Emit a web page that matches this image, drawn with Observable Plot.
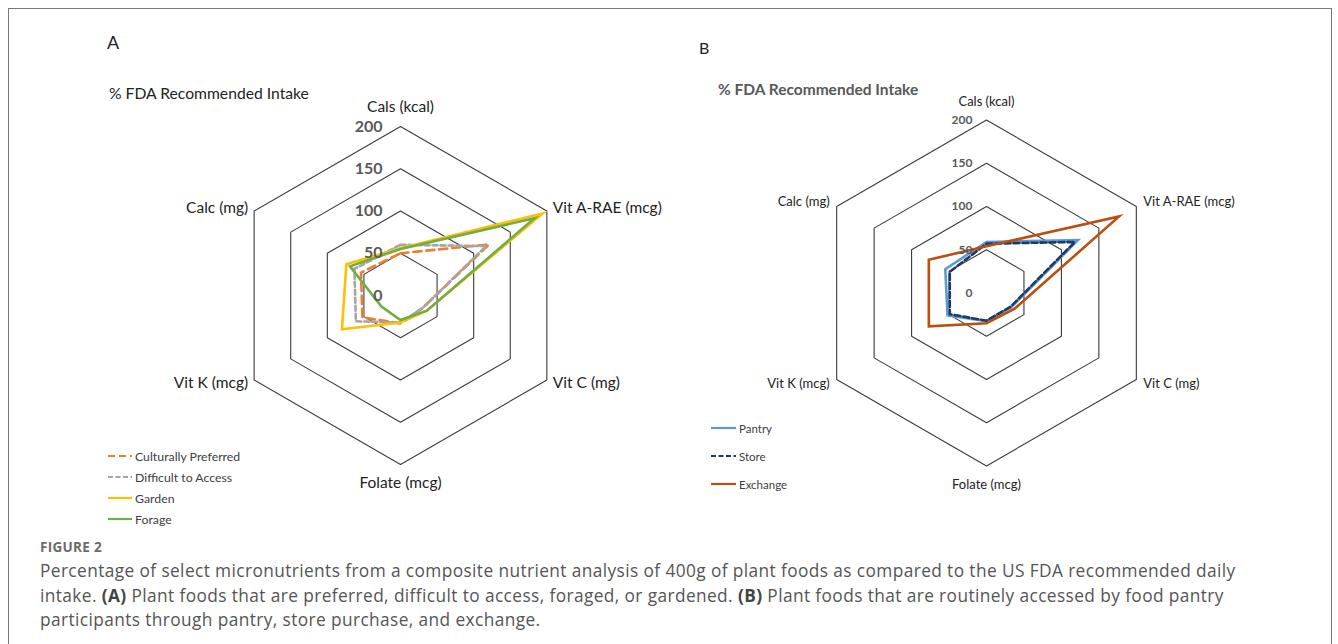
<!DOCTYPE html>
<html><head><meta charset="utf-8">
<script src="https://cdn.jsdelivr.net/npm/d3@7"></script>
<script src="https://cdn.jsdelivr.net/npm/@observablehq/plot@0.6"></script>
<style>
body{margin:0;background:#fff;}
#root{position:relative;width:1338px;height:644px;overflow:hidden;font-family:Lato,"Open Sans",sans-serif;background:#fff;}
#frame{position:absolute;left:8px;top:8px;width:1322px;height:700px;border:1.5px solid #7a7a7a;border-bottom:none;}
.abs{position:absolute;white-space:nowrap;line-height:1;}
.plot{position:absolute;top:0;}
.leg{position:absolute;display:flex;align-items:center;color:#404040;white-space:nowrap;}
.leg svg{display:block;margin-right:3px;}
</style></head><body><div id="root">
<div id="frame"></div>
<div class="abs" style="left:107px;top:33px;font-size:18px;color:#222;">A</div>
<div class="abs" style="left:109px;top:86px;font-size:15.7px;color:#222;">% FDA Recommended Intake</div>
<div class="abs" style="left:699px;top:40px;font-size:16px;color:#222;">B</div>
<div class="abs" style="left:718px;top:82px;font-size:15.5px;font-weight:700;color:#595959;">% FDA Recommended Intake</div>
<div id="plotA" class="plot" style="left:0px;"></div>
<div id="plotB" class="plot" style="left:660px;"></div>
<div id="legA"></div>
<div id="legB"></div>
<div class="abs" style="left:40px;top:541px;font-size:13.5px;font-weight:700;color:#6b6b6b;letter-spacing:0.3px;font-family:'Open Sans',Lato,sans-serif;">FIGURE 2</div>
<div class="abs" id="cap" style="left:40px;top:559px;font-size:17.3px;letter-spacing:0.4px;color:#555;line-height:24.5px;font-family:'Open Sans',Lato,sans-serif;"></div>
</div>
<script>
// ---- data ----
const categories = ["Cals (kcal)", "Vit A-RAE (mcg)", "Vit C (mg)", "Folate (mcg)", "Vit K (mcg)", "Calc (mg)"];
const ringValues = [50, 100, 150, 200];
const tickLabels = ["0", "50", "100", "150", "200"];
const tickValues = [0, 50, 100, 150, 200];

const seriesNamesA = ["Culturally Preferred", "Difficult to Access", "Garden", "Forage"];
const culturallyPreferred = [50, 121, 30, 33, 52, 54];
const difficultToAccess = [60, 117, 30, 32, 61, 63];
const garden = [56, 194, 36, 32, 80, 74];
const forage = [55, 183, 36, 29, 26, 69];

const seriesNamesB = ["Pantry", "Store", "Exchange"];
const pantry = [59, 122, 33, 32.5, 52, 55];
const store = [57, 118, 32, 32, 49, 49];
const exchange = [54, 177, 37, 35, 77, 77];

const captionLines = [
  'Percentage of select micronutrients from a composite nutrient analysis of 400g of plant foods as compared to the US FDA recommended daily',
  'intake. <b style="color:#444">(A)</b> Plant foods that are preferred, difficult to access, foraged, or gardened. <b style="color:#444">(B)</b> Plant foods that are routinely accessed by food pantry',
  'participants through pantry, store purchase, and exchange.'
];

// ---- helpers ----
const ang = i => (i % 6) * Math.PI / 3;
const closed = vals => vals.concat([vals[0]]).map((v, i) => ({x: v * Math.sin(ang(i)), y: v * Math.cos(ang(i))}));
const rings = ringValues.flatMap(r => closed(categories.map(() => r)).map(p => ({...p, ring: r})));

function radar(el, o) {
  const lab = categories.map((c, i) => ({text: c, i, x: 200 * Math.sin(ang(i)), y: 200 * Math.cos(ang(i))}));
  const ticks = tickValues.map((v, i) => ({x: 0, y: v, text: tickLabels[i]}));
  const marks = [
    Plot.line(rings, {x: "x", y: "y", z: "ring", stroke: "#3a3a3a", strokeWidth: 1.1})
  ];
  for (const s of o.series) {
    marks.push(Plot.line(closed(s.values), {x: "x", y: "y", stroke: s.color, strokeWidth: 2.6, strokeDasharray: s.dash || null, strokeLinejoin: "miter", strokeMiterlimit: 6}));
  }
  marks.push(
    Plot.text(ticks, {x: "x", y: "y", text: "text", textAnchor: "end", dx: o.tickDx, fontSize: o.tickFont, fontWeight: 700, fill: "#595959"}),
    Plot.text(lab.filter(d => d.i === 0), {x: "x", y: "y", text: "text", dy: o.topDy, fontSize: o.labFont, fill: "#222"}),
    Plot.text(lab.filter(d => d.i === 3), {x: "x", y: "y", text: "text", dy: o.botDy, fontSize: o.labFont, fill: "#222"}),
    Plot.text(lab.filter(d => d.i === 1), {x: "x", y: "y", text: "text", textAnchor: "start", dx: o.sideDx, dy: o.upDy, fontSize: o.labFont, fill: "#222"}),
    Plot.text(lab.filter(d => d.i === 2), {x: "x", y: "y", text: "text", textAnchor: "start", dx: o.sideDx, dy: o.downDy, fontSize: o.labFont, fill: "#222"}),
    Plot.text(lab.filter(d => d.i === 4), {x: "x", y: "y", text: "text", textAnchor: "end", dx: -o.sideDx, dy: o.downDy, fontSize: o.labFont, fill: "#222"}),
    Plot.text(lab.filter(d => d.i === 5), {x: "x", y: "y", text: "text", textAnchor: "end", dx: -o.sideDx, dy: o.upDy, fontSize: o.labFont, fill: "#222"})
  );
  const p = Plot.plot({
    width: o.width, height: 530, margin: 0,
    style: {fontFamily: "Lato, 'Open Sans', sans-serif", background: "transparent", overflow: "visible"},
    x: {domain: [-200, 200], range: [o.cx - o.r, o.cx + o.r], axis: null},
    y: {domain: [-200, 200], range: [o.cy + o.r, o.cy - o.r], axis: null},
    marks
  });
  document.getElementById(el).appendChild(p);
}

const colA = ["#ED7D31", "#A5A5A5", "#FFC000", "#70AD47"];
const dashA = ["8,5", "5,3", null, null];
const valsA = [culturallyPreferred, difficultToAccess, garden, forage];
const colB = ["#5B9BD5", "#203864", "#B9500F"];
const dashB = [null, "6,3", null];
const valsB = [pantry, store, exchange];

radar("plotA", {
  width: 660, cx: 400, cy: 295, r: 169, tickDx: -18, tickFont: 16, labFont: 15.5,
  topDy: -19, botDy: 19, sideDx: 6, upDy: -3, downDy: 3,
  series: seriesNamesA.map((n, i) => ({name: n, values: valsA[i], color: colA[i], dash: dashA[i]}))
});
radar("plotB", {
  width: 678, cx: 326, cy: 292.5, r: 173, tickDx: -14, tickFont: 12, labFont: 13,
  topDy: -18, botDy: 19, sideDx: 7, upDy: -5, downDy: 4,
  series: seriesNamesB.map((n, i) => ({name: n, values: valsB[i], color: colB[i], dash: dashB[i]}))
});

function legend(id, names, cols, dashes, left, tops, lineW, font) {
  const root = document.getElementById(id);
  names.forEach((n, i) => {
    const d = document.createElement("div");
    d.className = "leg";
    d.style.left = left + "px";
    d.style.top = (tops[i] - 8) + "px";
    d.style.height = "16px";
    d.style.fontSize = font + "px";
    d.innerHTML = `<svg width="${lineW}" height="4"><line x1="0" y1="2" x2="${lineW}" y2="2" stroke="${cols[i]}" stroke-width="2.2" ${dashes[i] ? `stroke-dasharray="${dashes[i]}"` : ""}/></svg><span>${n}</span>`;
    root.appendChild(d);
  });
}
legend("legA", seriesNamesA, colA, ["7,4", "5,2.5", null, null], 108, [456, 477, 498, 519], 24, 12.3);
legend("legB", seriesNamesB, colB, [null, "5,2.5", null], 711, [428, 456, 484], 25, 11.5);
document.getElementById("cap").innerHTML = captionLines.join("<br>");
</script>
</body></html>
